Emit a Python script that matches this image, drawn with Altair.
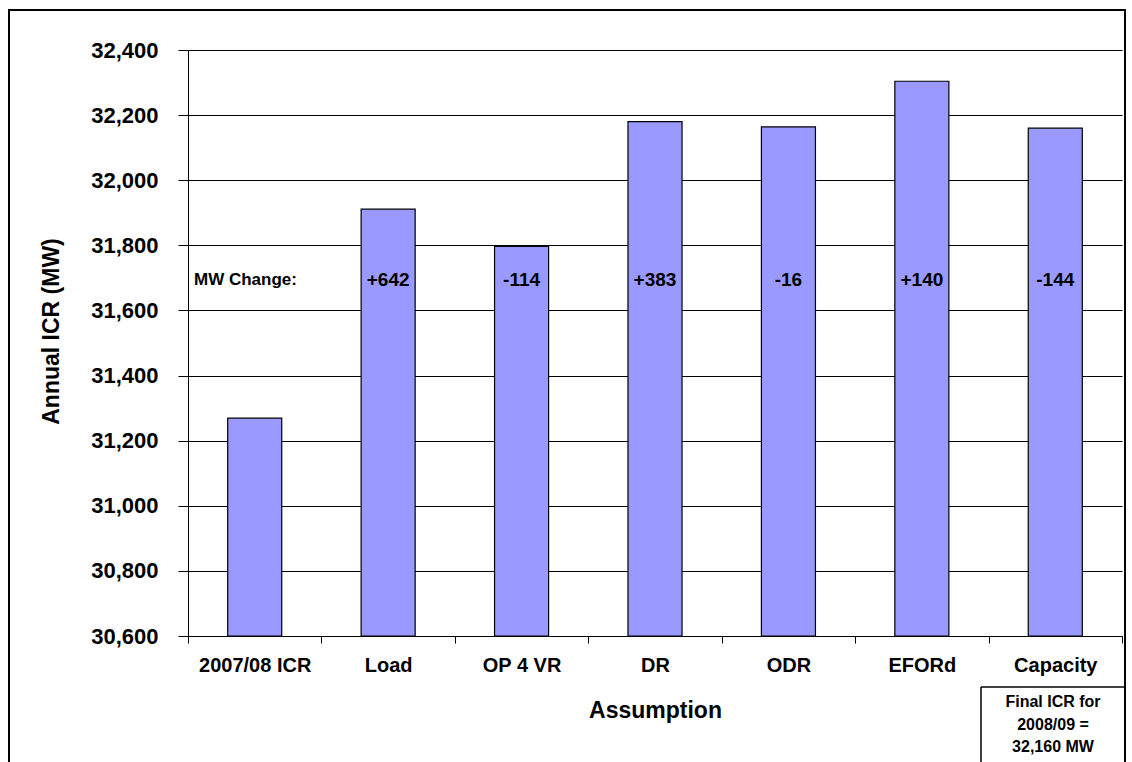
import altair as alt
import pandas as pd

categories = ["2007/08 ICR", "Load", "OP 4 VR", "DR", "ODR", "EFORd", "Capacity"]
icr_values = [31269, 31911, 31797, 32180, 32164, 32304, 32160]
change_labels = ["", "+642", "-114", "+383", "-16", "+140", "-144"]
y_ticks = list(range(30600, 32401, 200))
box_lines = ["Final ICR for", "2008/09  =", "32,160 MW"]
change_caption = "MW Change:"

df = pd.DataFrame({"Assumption": categories, "ICR": icr_values, "Change": change_labels})

FONT = "Liberation Sans"

x_enc = alt.X(
    "Assumption:N",
    sort=categories,
    scale=alt.Scale(paddingInner=0, paddingOuter=0),
    axis=alt.Axis(
        title="Assumption",
        labelAngle=0,
        labelFont=FONT,
        labelFontSize=20,
        labelFontWeight="bold",
        labelColor="black",
        labelPadding=12,
        tickBand="extent",
        tickSize=7,
        tickColor="black",
        domainColor="black",
        titleFont=FONT,
        titleFontSize=23,
        titleFontWeight="bold",
        titleColor="black",
        titleX=467,
        titleY=74,
        titleAlign="center",
        titleBaseline="middle",
    ),
)

bars = alt.Chart(df).mark_bar(
    width=alt.RelativeBandSize(0.405), color="#9999FF", stroke="black", strokeWidth=1.2
).encode(
    x=x_enc,
    y=alt.Y(
        "ICR:Q",
        scale=alt.Scale(domain=[30600, 32400], zero=False, nice=False),
        axis=alt.Axis(
            title="Annual ICR (MW)",
            values=y_ticks,
            format=",.0f",
            grid=True,
            gridColor="black",
            gridWidth=1,
            labelFont=FONT,
            labelFontSize=22,
            labelFontWeight="bold",
            labelColor="black",
            labelPadding=20,
            tickSize=10,
            tickColor="black",
            domainColor="black",
            titleFont=FONT,
            titleFontSize=23,
            titleFontWeight="bold",
            titleColor="black",
            titleAngle=270,
            titleX=-137,
            titleY=281,
            titleAlign="center",
            titleBaseline="middle",
        ),
    ),
    y2=alt.datum(30600),
)

changes = alt.Chart(df).mark_text(
    font=FONT, fontSize=19, fontWeight="bold", color="black", align="center", baseline="middle"
).encode(x=x_enc, y=alt.value(230), text="Change:N")

caption = alt.Chart(pd.DataFrame({"t": [change_caption]})).mark_text(
    font=FONT, fontSize=17, fontWeight="bold", color="black", align="left", baseline="middle"
).encode(x=alt.value(6), y=alt.value(230), text="t:N")

one = pd.DataFrame({"k": [0]})
frame = alt.Chart(one).mark_rect(filled=False, stroke="black", strokeWidth=2).encode(
    x=alt.value(-179), x2=alt.value(937), y=alt.value(-40), y2=alt.value(800)
)
box_top = alt.Chart(one).mark_rule(color="black", strokeWidth=1.5).encode(
    x=alt.value(793), x2=alt.value(937), y=alt.value(637)
)
box_left = alt.Chart(one).mark_rule(color="black", strokeWidth=1.5).encode(
    x=alt.value(793), y=alt.value(637), y2=alt.value(800)
)

box_layers = []
for line, ypix in zip(box_lines, [652, 675, 697]):
    box_layers.append(
        alt.Chart(pd.DataFrame({"t": [line]})).mark_text(
            font=FONT, fontSize=16, fontWeight="bold", color="black", align="center", baseline="middle"
        ).encode(x=alt.value(865), y=alt.value(ypix), text="t:N")
    )

chart = alt.layer(bars, changes, caption, frame, box_top, box_left, *box_layers).properties(
    width=934,
    height=586,
    padding={"left": 188, "top": 50, "right": 10, "bottom": 126},
    autosize=alt.AutoSizeParams(type="none"),
    background="white",
).configure_view(stroke=None)

chart.save("out.html", embed_options={"renderer": "svg", "actions": False})
